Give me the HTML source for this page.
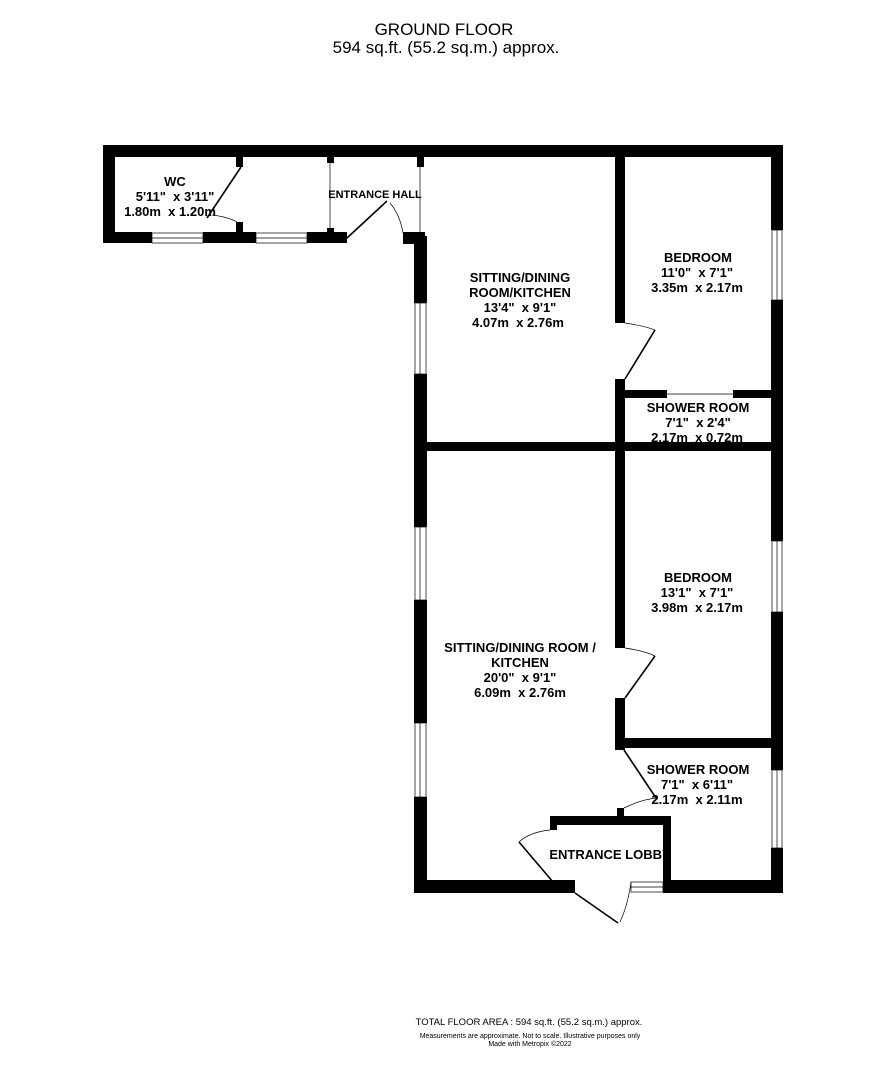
<!DOCTYPE html>
<html><head><style>
body{margin:0;background:#fff;width:886px;height:1082px;overflow:hidden}
svg{display:block}
text{font-family:"Liberation Sans",Arial,sans-serif}
.l text{white-space:pre}
.l{font-weight:bold;font-size:13px;text-anchor:middle}
</style></head><body>
<svg width="886" height="1082" viewBox="0 0 886 1082">
<text x="444" y="35" font-size="17" text-anchor="middle">GROUND FLOOR</text>
<text x="446" y="53" font-size="17" text-anchor="middle">594 sq.ft. (55.2 sq.m.) approx.</text>
<g fill="#000">
<rect x="103" y="145" width="680" height="12"/>
<rect x="103" y="145" width="12" height="98"/>
<rect x="103" y="232" width="49" height="11"/>
<rect x="203" y="232" width="53" height="11"/>
<rect x="307" y="232" width="40" height="11"/>
<rect x="236" y="157" width="7" height="10"/>
<rect x="236" y="222" width="7" height="10"/>
<rect x="327" y="157" width="7" height="6"/>
<rect x="327" y="228" width="7" height="6"/>
<rect x="417" y="157" width="7" height="10"/>
<rect x="403" y="232" width="22" height="12"/>
<rect x="414" y="236" width="13" height="67"/>
<rect x="414" y="374" width="13" height="153"/>
<rect x="414" y="600" width="13" height="123"/>
<rect x="414" y="797" width="13" height="96"/>
<rect x="771" y="145" width="12" height="85"/>
<rect x="771" y="300" width="12" height="241"/>
<rect x="771" y="612" width="12" height="158"/>
<rect x="771" y="848" width="12" height="45"/>
<rect x="615" y="157" width="10" height="166"/>
<rect x="615" y="379" width="10" height="269"/>
<rect x="615" y="698" width="10" height="52"/>
<rect x="414" y="442" width="369" height="9"/>
<rect x="615" y="390" width="52" height="8"/>
<rect x="733" y="390" width="50" height="8"/>
<rect x="615" y="738" width="168" height="10"/>
<rect x="617" y="808" width="7" height="10"/>
<rect x="550" y="816" width="121" height="9"/>
<rect x="550" y="816" width="7" height="14"/>
<rect x="663" y="816" width="8" height="77"/>
<rect x="414" y="880" width="161" height="13"/>
<rect x="663" y="880" width="120" height="13"/>
</g>
<g fill="none" stroke="#000" stroke-width="0.7">
<rect x="152" y="233" width="51" height="10"/><line x1="152" y1="238" x2="203" y2="238"/>
<rect x="256" y="233" width="51" height="10"/><line x1="256" y1="238" x2="307" y2="238"/>
<rect x="415" y="303" width="11" height="71"/><line x1="420" y1="303" x2="420" y2="374"/>
<rect x="415" y="527" width="11" height="73"/><line x1="420" y1="527" x2="420" y2="600"/>
<rect x="415" y="723" width="11" height="74"/><line x1="420" y1="723" x2="420" y2="797"/>
<rect x="772" y="230" width="10" height="70"/><line x1="777" y1="230" x2="777" y2="300"/>
<rect x="772" y="541" width="10" height="71"/><line x1="777" y1="541" x2="777" y2="612"/>
<rect x="772" y="770" width="10" height="78"/><line x1="777" y1="770" x2="777" y2="848"/>
<rect x="631" y="882" width="32" height="10"/><line x1="631" y1="887" x2="663" y2="887"/>
<line x1="667" y1="394" x2="733" y2="394"/>
<line x1="330" y1="163" x2="330" y2="228"/>
<line x1="420" y1="167" x2="420" y2="232"/>
<path d="M212 215 Q228 217 237 222"/>
<path d="M390 203 Q400 215 403 233"/>
<path d="M625 323 Q645 326 655 330"/>
<path d="M625 648 Q645 651 655 656"/>
<path d="M624 808 Q640 800 656 798"/>
<path d="M550 830 Q530 832 519 842"/>
<path d="M620 922 Q628 905 631 882"/>
</g>
<g stroke="#000" stroke-width="1.6">
<line x1="241" y1="167" x2="207" y2="218"/>
<line x1="347" y1="238" x2="387" y2="201"/>
<line x1="625" y1="379" x2="655" y2="330"/>
<line x1="625" y1="698" x2="655" y2="656"/>
<line x1="624" y1="750" x2="656" y2="798"/>
<line x1="519" y1="842" x2="553" y2="882"/>
<line x1="575" y1="893" x2="618" y2="923"/>
</g>
<g class="l">
<text x="175" y="186">WC</text>
<text x="175" y="201">5'11"  x 3'11"</text>
<text x="170" y="216">1.80m  x 1.20m</text>
<text x="375" y="198" font-size="11">ENTRANCE HALL</text>
<text x="520" y="282">SITTING/DINING</text>
<text x="520" y="297">ROOM/KITCHEN</text>
<text x="520" y="312">13'4"  x 9'1"</text>
<text x="518" y="327">4.07m  x 2.76m</text>
<text x="698" y="262">BEDROOM</text>
<text x="697" y="277">11'0"  x 7'1"</text>
<text x="697" y="292">3.35m  x 2.17m</text>
<text x="698" y="412">SHOWER ROOM</text>
<text x="698" y="427">7'1"  x 2'4"</text>
<text x="697" y="442">2.17m  x 0.72m</text>
<text x="698" y="582">BEDROOM</text>
<text x="697" y="597">13'1"  x 7'1"</text>
<text x="697" y="612">3.98m  x 2.17m</text>
<text x="520" y="652">SITTING/DINING ROOM /</text>
<text x="520" y="667">KITCHEN</text>
<text x="520" y="682">20'0"  x 9'1"</text>
<text x="520" y="697">6.09m  x 2.76m</text>
<text x="698" y="774">SHOWER ROOM</text>
<text x="697" y="789">7'1"  x 6'11"</text>
<text x="697" y="804">2.17m  x 2.11m</text>
<text x="610" y="859">ENTRANCE LOBBY</text>
</g>
<text x="529" y="1025" font-size="9.5" text-anchor="middle">TOTAL FLOOR AREA : 594 sq.ft. (55.2 sq.m.) approx.</text>
<text x="530" y="1038" font-size="7" text-anchor="middle">Measurements are approximate.  Not to scale.  Illustrative purposes only</text>
<text x="530" y="1046" font-size="7" text-anchor="middle">Made with Metropix ©2022</text>
</svg>
</body></html>
